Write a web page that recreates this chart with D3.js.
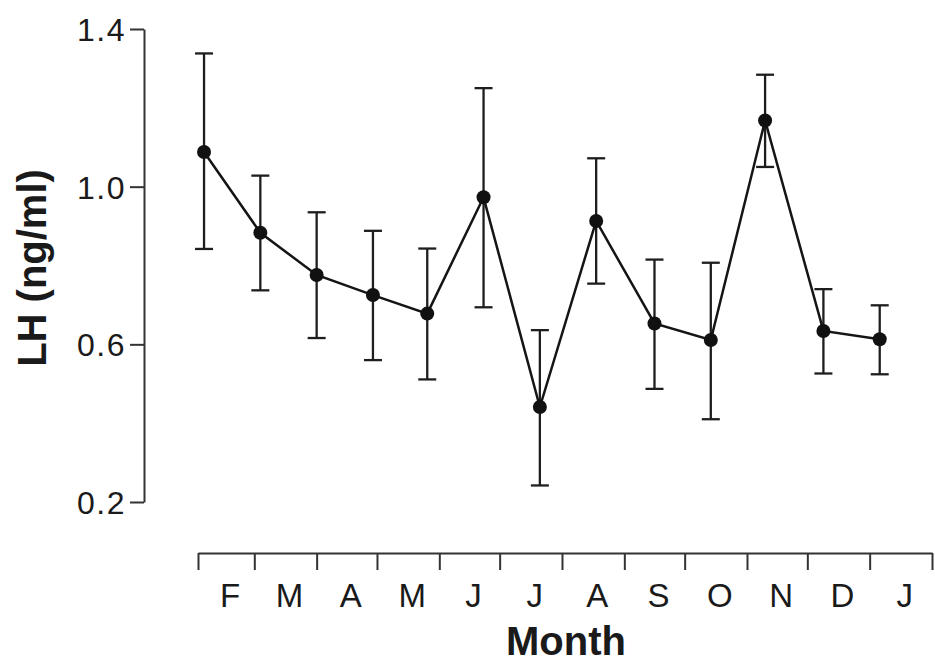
<!DOCTYPE html>
<html>
<head>
<meta charset="utf-8">
<script src="https://cdn.jsdelivr.net/npm/d3@7"></script>
<style>
  html, body { margin: 0; padding: 0; background: #fff; }
  svg { display: block; }
  text { font-family: "Liberation Sans", Arial, Helvetica, sans-serif; fill: #1a1a1a; }
</style>
</head>
<body>
<svg id="chart" width="935" height="665"></svg>
<script>
// Monthly LH sampling: date of each sample, mean and error-bar limits (ng/ml)
const sampleDates = ["2001-02-04", "2001-03-04", "2001-04-01", "2001-04-29", "2001-05-26",
                     "2001-06-23", "2001-07-21", "2001-08-18", "2001-09-16", "2001-10-14",
                     "2001-11-10", "2001-12-09", "2002-01-06"];
const lhMean = [1.088, 0.883, 0.776, 0.725, 0.678, 0.973, 0.441, 0.913, 0.653, 0.611, 1.168, 0.634, 0.613];
const lhHigh = [1.338, 1.028, 0.935, 0.888, 0.843, 1.250, 0.636, 1.072, 0.815, 0.807, 1.284, 0.740, 0.699];
const lhLow  = [0.842, 0.737, 0.616, 0.560, 0.511, 0.694, 0.242, 0.754, 0.487, 0.410, 1.050, 0.526, 0.524];
const monthLabels = ["F", "M", "A", "M", "J", "J", "A", "S", "O", "N", "D", "J"];
const yTicks = [0.2, 0.6, 1.0, 1.4];

const svg = d3.select("#chart");
const ink = "#151515";

const parse = d3.timeParse("%Y-%m-%d");
const start = new Date(2001, 1, 1);
const end = new Date(2002, 1, 1);

const x = d3.scaleTime().domain([start, end]).range([198, 932]);
const y = d3.scaleLinear().domain([0.2, 1.4]).range([502, 29]);

// Y axis
const yAxis = svg.append("g")
  .attr("transform", "translate(144,0)")
  .call(d3.axisLeft(y).tickValues(yTicks).tickFormat(d3.format(".1f"))
    .tickSize(14).tickSizeOuter(0).tickPadding(4));
yAxis.select(".domain").attr("stroke", "#333").attr("stroke-width", 2);
yAxis.selectAll(".tick line").attr("stroke", "#333").attr("stroke-width", 2);
yAxis.selectAll(".tick text")
  .attr("font-size", 32)
  .attr("letter-spacing", 1.5)
  .attr("fill", ink)
  .attr("dy", "0.36em")
  .attr("font-family", "'Liberation Sans', Arial, sans-serif");

// X axis: ticks at month boundaries, labels centred in each month
const monthStarts = d3.timeMonth.range(start, d3.timeDay.offset(end, 1));
const xAxis = svg.append("g")
  .attr("transform", "translate(0,553)")
  .call(d3.axisBottom(x).tickValues(monthStarts).tickFormat("")
    .tickSize(17).tickSizeOuter(0));
xAxis.select(".domain").attr("stroke", "#333").attr("stroke-width", 2.2);
xAxis.selectAll(".tick line").attr("stroke", "#333").attr("stroke-width", 2);

svg.append("g").selectAll("text")
  .data(monthLabels)
  .join("text")
  .attr("x", (d, i) => (x(monthStarts[i]) + x(monthStarts[i + 1])) / 2 + 4)
  .attr("y", 607)
  .attr("text-anchor", "middle")
  .attr("font-size", 33)
  .attr("fill", ink)
  .text(d => d);

// Axis titles
svg.append("text")
  .attr("x", 566).attr("y", 655)
  .attr("text-anchor", "middle")
  .attr("font-size", 40).attr("font-weight", "bold")
  .attr("fill", "#111")
  .text("Month");

svg.append("text")
  .attr("transform", "translate(46,268) rotate(-90)")
  .attr("text-anchor", "middle")
  .attr("font-size", 40).attr("font-weight", "bold")
  .attr("fill", "#111")
  .text("LH (ng/ml)");

// Data
const data = sampleDates.map((d, i) => ({
  date: parse(d), mean: lhMean[i], hi: lhHigh[i], lo: lhLow[i]
}));

const bars = svg.append("g").attr("stroke", "#1e1e1e").attr("stroke-width", 2.3).attr("fill", "none");
bars.selectAll("line.v").data(data).join("line").attr("class", "v")
  .attr("x1", d => x(d.date)).attr("x2", d => x(d.date))
  .attr("y1", d => y(d.hi)).attr("y2", d => y(d.lo));
bars.selectAll("line.t").data(data).join("line").attr("class", "t")
  .attr("x1", d => x(d.date) - 9).attr("x2", d => x(d.date) + 9)
  .attr("y1", d => y(d.hi)).attr("y2", d => y(d.hi));
bars.selectAll("line.b").data(data).join("line").attr("class", "b")
  .attr("x1", d => x(d.date) - 9).attr("x2", d => x(d.date) + 9)
  .attr("y1", d => y(d.lo)).attr("y2", d => y(d.lo));

svg.append("path")
  .datum(data)
  .attr("fill", "none")
  .attr("stroke", "#151515")
  .attr("stroke-width", 2.5)
  .attr("d", d3.line().x(d => x(d.date)).y(d => y(d.mean)));

svg.append("g").selectAll("circle")
  .data(data)
  .join("circle")
  .attr("cx", d => x(d.date))
  .attr("cy", d => y(d.mean))
  .attr("r", 7)
  .attr("fill", "#111");
</script>
</body>
</html>
